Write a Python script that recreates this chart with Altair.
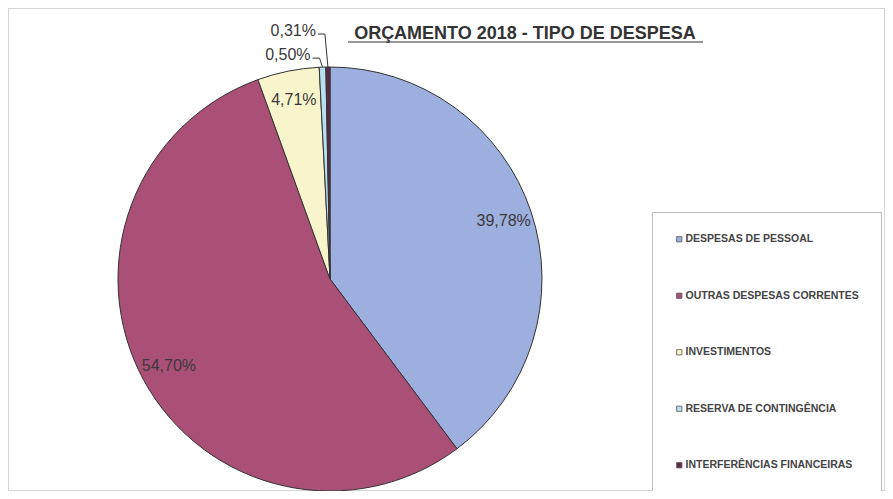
import altair as alt
import pandas as pd

categorias = ["DESPESAS DE PESSOAL", "OUTRAS DESPESAS CORRENTES", "INVESTIMENTOS",
              "RESERVA DE CONTINGÊNCIA", "INTERFERÊNCIAS FINANCEIRAS"]
percentuais = [39.78, 54.70, 4.71, 0.50, 0.31]
rotulos = ["39,78%", "54,70%", "4,71%", "0,50%", "0,31%"]
ordem = [0, 1, 2, 3, 4]
cores = ["#9DAFDE", "#AA5076", "#F8F5CC", "#B7DFF0", "#5E2A48"]
titulo = "ORÇAMENTO 2018 - TIPO DE DESPESA"

df = pd.DataFrame({"cat": categorias, "pct": percentuais, "rotulo": rotulos, "ordem": ordem})

W, H = 877, 483
CX, CY, R = 322, 271, 212
LABEL_R = 183
FONT = "Liberation Sans"
TXT = "#3a3a3a"

base = alt.Chart(df)
theta = alt.Theta("pct:Q", stack=True)
order = alt.Order("ordem:Q")

pie = base.mark_arc(radius=R, stroke="#333333", strokeWidth=1).encode(
    theta=theta,
    order=order,
    color=alt.Color(
        "cat:N",
        scale=alt.Scale(domain=categorias, range=cores),
        title=None,
        legend=alt.Legend(
            orient="none", legendX=644, legendY=204,
            strokeColor="#bdbdbd", fillColor="white", padding=22,
            symbolType="square", symbolSize=28, symbolStrokeColor="#555555",
            symbolStrokeWidth=0.8, labelFont=FONT, labelFontWeight="bold",
            labelFontSize=10.5, labelColor="#444444", labelOffset=1,
            labelLimit=400, rowPadding=45.5,
        ),
    ),
    x=alt.value(CX),
    y=alt.value(CY),
)

big = base.transform_calculate(
    t="datum.pct >= 1 ? datum.rotulo : ''"
).mark_text(radius=LABEL_R, font=FONT, fontSize=16, color=TXT).encode(
    theta=theta, order=order, text="t:N", x=alt.value(CX), y=alt.value(CY)
)

small_base = base.transform_window(
    cum="sum(pct)", sort=[alt.SortField("ordem")]
).transform_joinaggregate(tot="sum(pct)").transform_filter(
    "datum.pct < 1"
).transform_calculate(
    mid="(datum.cum - datum.pct/2) / datum.tot * 2 * PI",
    lr="datum.pct > 0.4 ? 224 : 248",
).transform_calculate(
    sx=f"{CX} + {R} * sin(datum.mid)",
    sy=f"{CY} - {R} * cos(datum.mid)",
    ly=f"{CY} - datum.lr * cos(datum.mid)",
).transform_calculate(
    ex="datum.sx - 3",
    ey="datum.ly + 3",
).transform_calculate(
    fx="datum.ex - 7",
).transform_calculate(
    tx="datum.fx - 2",
)

seg1 = small_base.mark_rule(color="#333333", strokeWidth=1).encode(
    x=alt.X("sx:Q", scale=None), y=alt.Y("sy:Q", scale=None),
    x2="ex:Q", y2="ey:Q",
)
seg2 = small_base.mark_rule(color="#333333", strokeWidth=1).encode(
    x=alt.X("ex:Q", scale=None), y=alt.Y("ey:Q", scale=None),
    x2="fx:Q", y2="ey:Q",
)
small_txt = small_base.mark_text(
    align="right", baseline="middle", font=FONT, fontSize=16, color=TXT
).encode(
    x=alt.X("tx:Q", scale=None), y=alt.Y("ly:Q", scale=None), text="rotulo:N"
)

title_txt = alt.Chart(pd.DataFrame({"t": [titulo]})).mark_text(
    align="center", baseline="alphabetic", font=FONT, fontSize=18,
    fontWeight="bold", color="#333333"
).encode(text="t:N", x=alt.value(517), y=alt.value(31))

underline = alt.Chart(pd.DataFrame({"t": [titulo]})).mark_rule(
    color="#333333", strokeWidth=1.2
).encode(x=alt.value(340), x2=alt.value(695), y=alt.value(34))

chart = alt.layer(pie, big, seg1, seg2, small_txt, title_txt, underline).properties(
    width=W, height=H, autosize=alt.AutoSizeParams(type="none"), padding=0
).configure_view(stroke="#c8c8c8", strokeWidth=1.5)

chart.save("out.html", embed_options={"renderer": "svg", "actions": False})
